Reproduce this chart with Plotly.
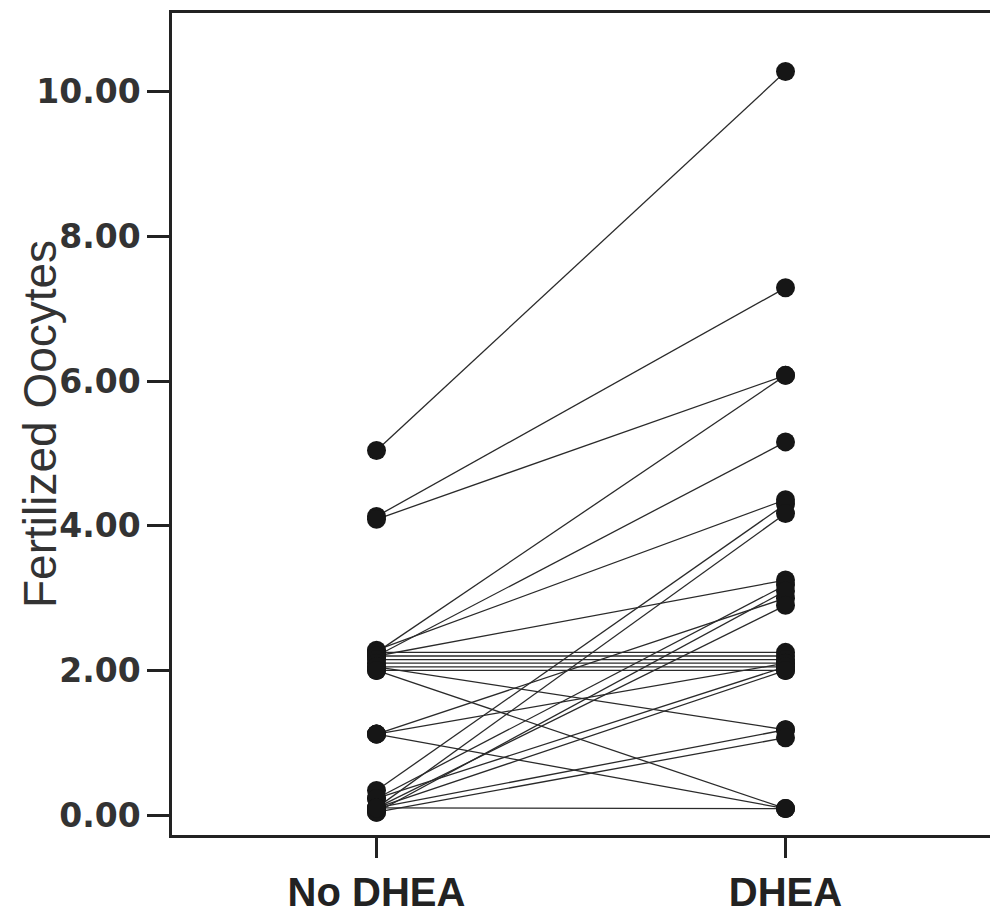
import plotly.graph_objects as go

categories = ["No DHEA", "DHEA"]

# Paired values (one entry per subject)
no_dhea = [5.04, 4.13, 4.09,
           2.25, 2.20, 2.28, 2.20,
           2.25, 2.20, 2.15, 2.10, 2.05, 2.00,
           2.05, 2.00,
           1.12, 1.12, 1.12,
           0.34, 0.10, 0.23, 0.04, 0.10, 0.23, 0.10, 0.10, 0.04, 0.10]
dhea = [10.28, 7.29, 6.08,
        6.08, 5.16, 4.36, 3.25,
        2.25, 2.20, 2.15, 2.10, 2.05, 2.00,
        1.18, 0.09,
        3.00, 2.10, 0.09,
        4.30, 4.17, 3.18, 3.10, 2.90, 2.05, 2.00, 1.18, 1.07, 0.09]

y_ticks = [0, 2, 4, 6, 8, 10]
y_ticktext = ["0.00", "2.00", "4.00", "6.00", "8.00", "10.00"]

xpos = [1, 2]

lx, ly = [], []
for a, b in zip(no_dhea, dhea):
    lx += [xpos[0], xpos[1], None]
    ly += [a, b, None]

fig = go.Figure()
fig.add_trace(go.Scatter(x=lx, y=ly, mode="lines",
                         line=dict(color="#2a2a2a", width=1.3),
                         hoverinfo="skip", showlegend=False))
fig.add_trace(go.Scatter(x=[xpos[0]] * len(no_dhea) + [xpos[1]] * len(dhea),
                         y=no_dhea + dhea, mode="markers",
                         marker=dict(color="#161616", size=19, line=dict(width=0)),
                         showlegend=False))

fig.update_layout(
    width=990, height=908,
    margin=dict(l=164, r=8, t=2, b=81),
    paper_bgcolor="white", plot_bgcolor="white",
    xaxis=dict(range=[0.5, 2.5], tickvals=xpos, ticktext=categories,
               showgrid=False, zeroline=False,
               showline=True, mirror=True, linewidth=2.5, linecolor="#222",
               ticks="outside", ticklen=20, tickwidth=3, tickcolor="#222",
               tickfont=dict(family="Liberation Sans", size=40, color="#222", weight="bold")),
    yaxis=dict(range=[-0.275, 11.09], tickvals=y_ticks, ticktext=y_ticktext,
               showgrid=False, zeroline=False,
               showline=True, mirror=True, linewidth=2.5, linecolor="#222",
               ticks="outside", ticklen=22, tickwidth=3, tickcolor="#222",
               tickfont=dict(family="DejaVu Sans", size=33, color="#333", weight="bold")),
    annotations=[dict(text="Fertilized Oocytes", xref="paper", yref="paper",
                      x=0, y=0.5, xanchor="center", yanchor="middle",
                      xshift=-132, textangle=-90, showarrow=False,
                      font=dict(family="Liberation Sans", size=46, color="#333"))],
)

fig.write_html("out.html")
